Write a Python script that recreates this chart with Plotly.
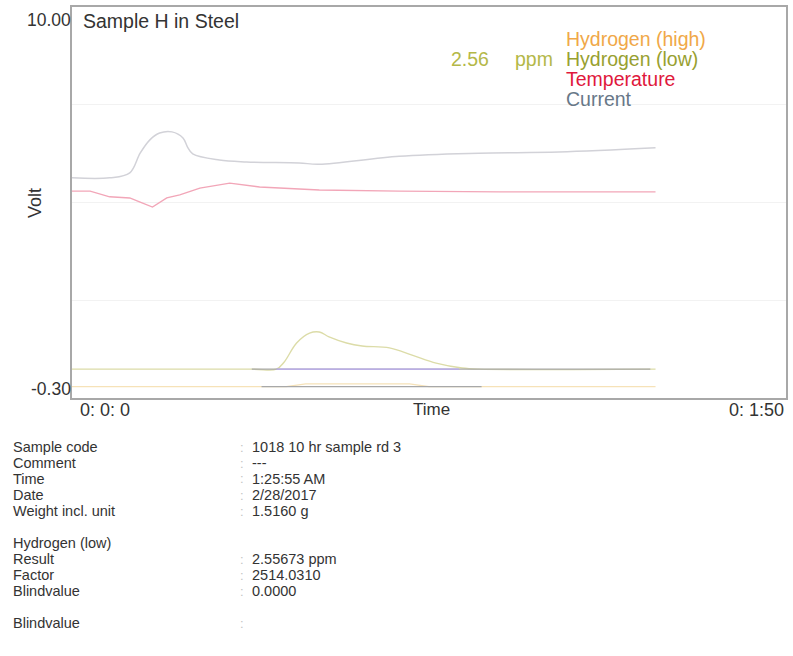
import plotly.graph_objects as go

# Axis limits (Volt, seconds)
y_min, y_max = -0.30, 10.00
time_max_s = 110

# Signal traces (time in s, signal in V)
current_t = [0, 5.8, 8.9, 10.5, 12.0, 13.5, 15.4, 17.1, 17.8, 18.6, 22.7, 26.9, 35.0, 38.1, 50.4, 62.7, 75.0, 89.9]
current_v = [5.50, 5.50, 5.63, 6.15, 6.50, 6.68, 6.71, 6.55, 6.31, 6.13, 5.97, 5.92, 5.89, 5.86, 6.07, 6.15, 6.18, 6.29]

temp_t = [0, 2.8, 5.8, 8.9, 10.5, 12.4, 14.6, 16.6, 19.7, 24.3, 28.9, 34.0, 38.1, 50.4, 65.8, 89.9]
temp_v = [5.15, 5.15, 5.00, 4.97, 4.86, 4.73, 4.97, 5.05, 5.23, 5.36, 5.26, 5.21, 5.18, 5.15, 5.13, 5.13]

h_low_t = [0, 27.7, 31.5, 32.7, 34.6, 36.6, 38.1, 39.6, 42.3, 44.7, 48.9, 52.4, 56.1, 60.1, 62.7, 89.9]
h_low_v = [0.46, 0.46, 0.46, 0.65, 1.15, 1.41, 1.44, 1.31, 1.15, 1.07, 1.02, 0.83, 0.62, 0.49, 0.46, 0.46]

h_high_t = [0, 33.0, 36.0, 52.0, 55.0, 89.9]
h_high_v = [0.0, 0.0, 0.07, 0.07, 0.0, 0.0]

# Integration baselines and window
low_base_t = [27.7, 89.1]
low_base_v = [0.46, 0.46]
low_window_t = [31.5, 59.6]
low_window_v = [0.46, 0.46]
high_base_t = [29.2, 63.1]
high_base_v = [0.0, 0.0]

# Result and report table
result_ppm = 2.55673
legend_names = ["Hydrogen (high)", "Hydrogen (low)", "Temperature", "Current"]
legend_colors = ["#f0a848", "#98a030", "#e0183c", "#687888"]

table_block1_labels = ["Sample code", "Comment", "Time", "Date", "Weight incl. unit"]
table_block1_values = ["1018 10 hr sample rd 3", "---", "1:25:55 AM", "2/28/2017", "1.5160 g"]
table_block2_labels = ["Hydrogen (low)", "Result", "Factor", "Blindvalue"]
table_block2_values = [None, "2.55673 ppm", "2514.0310", "0.0000"]
table_block3_labels = ["Blindvalue"]
table_block3_values = [""]

W, H = 793, 656
L, R, T, B = 72, 5, 7, 258
plot_w = W - L - R
plot_h = H - T - B


def px_x(x):
    return (x - L) / plot_w


def px_y(y):
    return (H - B - y) / plot_h


FONT = "Liberation Sans, Arial, sans-serif"
TXT = "#333333"

fig = go.Figure()

fig.add_trace(go.Scatter(x=h_high_t, y=h_high_v, mode="lines",
                         line=dict(color="#f6e2b8", width=1.3), name="Hydrogen (high)"))
fig.add_trace(go.Scatter(x=high_base_t, y=high_base_v, mode="lines",
                         line=dict(color="#a8a8a8", width=1.2), name="high baseline"))
fig.add_trace(go.Scatter(x=h_low_t, y=h_low_v, mode="lines", line_shape="spline",
                         line=dict(color="#dcdca8", width=1.4), name="Hydrogen (low)"))
fig.add_trace(go.Scatter(x=low_base_t, y=low_base_v, mode="lines",
                         line=dict(color="#a8a8a8", width=1.2), name="low baseline"))
fig.add_trace(go.Scatter(x=low_window_t, y=low_window_v, mode="lines",
                         line=dict(color="#b8a8f0", width=1.2), name="window"))
fig.add_trace(go.Scatter(x=temp_t, y=temp_v, mode="lines",
                         line=dict(color="#f2a6b8", width=1.4), name="Temperature"))
fig.add_trace(go.Scatter(x=current_t, y=current_v, mode="lines", line_shape="spline",
                         line=dict(color="#d2d2d8", width=1.5), name="Current"))

grid_vals = [y_min + (y_max - y_min) * k / 4 for k in (1, 2, 3)]

annotations = []
# Y tick labels
annotations.append(dict(x=0, xref="paper", y=y_max, yref="y", text=f"{y_max:.2f}",
                        xanchor="right", yanchor="top", yshift=-1, xshift=1, showarrow=False,
                        font=dict(family=FONT, size=17.5, color=TXT)))
annotations.append(dict(x=0, xref="paper", y=y_min, yref="y", text=f"{y_min:.2f}",
                        xanchor="right", yanchor="bottom", yshift=-3, xshift=1, showarrow=False,
                        font=dict(family=FONT, size=17.5, color=TXT)))
annotations.append(dict(x=px_x(35), xref="paper", y=px_y(203), yref="paper", text="Volt",
                        textangle=-90, showarrow=False, xanchor="center", yanchor="middle",
                        font=dict(family=FONT, size=18, color=TXT)))
# X tick labels
annotations.append(dict(x=0, xref="x", y=0, yref="paper", text="0: 0: 0", xanchor="left",
                        yanchor="top", xshift=6, yshift=0, showarrow=False,
                        font=dict(family=FONT, size=18, color=TXT)))
annotations.append(dict(x=time_max_s, xref="x", y=0, yref="paper", text="0: 1:50", xanchor="right",
                        yanchor="top", yshift=0, showarrow=False,
                        font=dict(family=FONT, size=18, color=TXT)))
annotations.append(dict(x=px_x(433), xref="paper", y=0, yref="paper", text="Time", xanchor="center",
                        yanchor="top", yshift=0, showarrow=False,
                        font=dict(family=FONT, size=17, color=TXT)))
# Title inside the frame
annotations.append(dict(x=px_x(81), xref="paper", y=1, yref="paper", text="Sample H in Steel",
                        xanchor="left", yanchor="top", yshift=-1, showarrow=False,
                        font=dict(family=FONT, size=19.5, color=TXT)))
# Legend block
for i, (name, col) in enumerate(zip(legend_names, legend_colors)):
    annotations.append(dict(x=px_x(565), xref="paper", y=px_y(39 + 20 * i), yref="paper", text=name,
                            xanchor="left", yanchor="middle", showarrow=False,
                            font=dict(family=FONT, size=19.5, color=col)))
annotations.append(dict(x=px_x(492), xref="paper", y=px_y(59), yref="paper",
                        text=f"{result_ppm:.2f}", xanchor="right", yanchor="middle", showarrow=False,
                        font=dict(family=FONT, size=19.5, color="#b4b848")))
annotations.append(dict(x=px_x(514), xref="paper", y=px_y(59), yref="paper",
                        text="ppm", xanchor="left", yanchor="middle", showarrow=False,
                        font=dict(family=FONT, size=19.5, color="#b4b848")))

# Report table below the chart
row_h = 16
block_gap = 2 * row_h
rows = []
yy = 447
for blk_labels, blk_values in ((table_block1_labels, table_block1_values),
                               (table_block2_labels, table_block2_values),
                               (table_block3_labels, table_block3_values)):
    for lab, val in zip(blk_labels, blk_values):
        rows.append((yy, lab, val))
        yy += row_h
    yy += block_gap - row_h

TABLE_SIZE = 14.5
for yy, lab, val in rows:
    annotations.append(dict(x=px_x(12), xref="paper", y=px_y(yy), yref="paper", text=lab,
                            xanchor="left", yanchor="middle", showarrow=False, borderpad=0,
                            font=dict(family=FONT, size=TABLE_SIZE, color=TXT)))
    if val is not None:
        annotations.append(dict(x=px_x(239), xref="paper", y=px_y(yy), yref="paper", text=":",
                                xanchor="left", yanchor="middle", showarrow=False, borderpad=0,
                                font=dict(family=FONT, size=13, color="#c4c4c4")))
        if val:
            annotations.append(dict(x=px_x(251), xref="paper", y=px_y(yy), yref="paper", text=val,
                                    xanchor="left", yanchor="middle", showarrow=False, borderpad=0,
                                    font=dict(family=FONT, size=TABLE_SIZE, color=TXT)))

fig.update_layout(
    width=W, height=H,
    margin=dict(l=L, r=R, t=T, b=B),
    paper_bgcolor="white", plot_bgcolor="white",
    showlegend=False,
    annotations=annotations,
    xaxis=dict(range=[0, time_max_s], showgrid=False, showticklabels=False, ticks="",
               zeroline=False, showline=True, linecolor="#a8a8a8", linewidth=2, mirror=True),
    yaxis=dict(range=[y_min, y_max], tickvals=grid_vals, showticklabels=False, ticks="",
               showgrid=True, gridcolor="#f2f2f2", gridwidth=1, zeroline=False,
               showline=True, linecolor="#a8a8a8", linewidth=2, mirror=True),
)

fig.write_html("out.html")
